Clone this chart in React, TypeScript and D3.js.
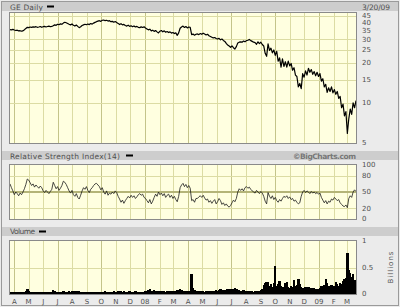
import React from "react";
import * as d3 from "d3";

const startDate = new Date(2007, 2, 23);
const endDate = new Date(2009, 2, 20);

const prices = [
  35.6, 35.4, 35.7, 35.3, 35.0, 35.2, 34.8, 34.9, 34.6, 34.8,
  35.5, 36.3, 37.0, 36.8, 37.2, 37.0, 37.3, 37.1, 37.4, 37.0,
  37.2, 37.5, 37.0, 37.4, 37.6, 37.2, 37.5, 37.8, 37.4, 37.6,
  38.0, 38.6, 38.3, 39.0, 38.7, 39.3, 39.0, 39.8, 40.4, 40.0,
  39.5, 39.0, 38.6, 39.2, 38.3, 37.8, 38.5, 37.6, 36.8, 37.4,
  38.2, 38.6, 39.0, 38.7, 39.2, 38.8, 39.5, 39.1, 39.8, 40.3,
  40.8, 41.2, 41.5, 41.0, 41.8, 42.0, 41.5, 41.8, 41.2, 41.5,
  40.8, 41.0, 40.4, 40.9, 40.2, 39.6, 38.8, 39.4, 38.6, 38.9,
  38.2, 37.8, 38.4, 37.6, 38.0, 37.4, 37.9, 37.2, 37.6, 37.0,
  36.8, 37.3, 36.9, 37.3, 36.6, 36.0, 35.4, 35.8, 34.8, 35.2,
  34.5, 35.0, 34.2, 33.6, 34.6, 35.0, 34.2, 34.8, 34.0, 34.4,
  33.8, 34.2, 33.5, 33.8, 33.2, 33.6, 32.2, 33.6, 36.4, 37.2,
  37.8, 36.9, 37.5, 36.6, 37.2, 37.0, 32.6, 32.9, 32.3, 32.8,
  33.0, 32.6, 33.2, 32.8, 33.4, 32.9, 32.4, 32.8, 32.0, 31.6,
  31.2, 30.8, 31.0, 30.5, 30.2, 30.6, 29.8, 30.2, 29.5, 29.0,
  28.0, 27.2, 26.8, 26.2, 26.8, 26.0, 25.4, 26.5, 28.2, 28.6,
  28.8, 28.6, 29.2, 28.8, 29.4, 29.6, 30.0, 29.4, 29.0, 28.6,
  28.4, 27.6, 28.8, 27.9, 28.6, 27.5, 26.8, 23.6, 22.4, 27.8,
  24.8, 25.8, 23.8, 25.0, 22.8, 24.4, 20.6, 21.8, 18.6, 21.4,
  18.8, 20.4, 18.6, 20.6, 19.0, 19.8, 17.6, 18.4, 16.2, 15.8,
  13.2, 14.0, 12.8, 16.6, 15.6, 17.4, 16.2, 18.2, 17.0, 17.8,
  16.4, 17.2, 16.0, 17.0, 15.8, 16.6, 14.6, 15.2, 13.2, 13.8,
  12.0, 13.0, 12.2, 13.2, 11.9, 12.6, 11.6, 12.2, 10.8, 11.2,
  9.2, 9.8, 8.0, 8.6, 5.9, 7.6, 9.0, 8.2, 10.0, 9.2, 10.4,
];

const rsi = [
  65, 58, 52, 45, 50, 47, 43, 48, 45, 50,
  56, 64, 74, 72, 67, 62, 65, 59, 63, 60,
  57, 61, 58, 52, 49, 53, 50, 47, 51, 55,
  68, 62, 56, 60, 53, 57, 62, 70, 68, 64,
  58, 52, 48, 53, 45, 42, 47, 40, 37, 44,
  52, 58, 55, 60, 53, 49, 55, 58, 62, 65,
  66, 63, 60, 54, 58, 50, 46, 52, 44, 48,
  46, 50, 47, 52, 49, 42, 37, 31, 35, 29,
  34, 38, 42, 39, 44, 40, 43, 38, 41, 45,
  47, 44, 46, 40, 38, 34, 30, 36, 28, 33,
  40, 46, 42, 50, 45, 48, 43, 47, 40, 44,
  46, 40, 44, 38, 42, 36, 32, 42, 58, 63,
  66, 60, 64, 58, 62, 57, 34, 36, 31, 38,
  38, 41, 43, 40, 44, 39, 35, 37, 31, 34,
  29, 33, 36, 28, 32, 38, 34, 27, 30, 25,
  28, 24, 22, 25, 30, 35, 32, 38, 50, 56,
  53, 56, 52, 58, 60, 57, 59, 55, 52, 50,
  48, 53, 50, 47, 51, 48, 42, 33, 28, 49,
  42, 38, 43, 36, 40, 34, 31, 36, 33, 38,
  42, 40, 43, 38, 41, 36, 38, 33, 35, 31,
  28, 30, 42, 50, 53, 49, 52, 50, 47, 51,
  48, 50, 47, 49, 46, 48, 40, 35, 30, 34,
  28, 33, 31, 37, 35, 40, 37, 34, 36, 30,
  27, 24, 23, 26, 21, 38, 43, 40, 50, 54, 51,
];

const volume = [
  0.04, 0.035, 0.03, 0.04, 0.035, 0.03, 0.04, 0.035, 0.03, 0.035,
  0.04, 0.06, 0.09, 0.05, 0.04, 0.035, 0.03, 0.04, 0.035, 0.03,
  0.035, 0.03, 0.04, 0.035, 0.03, 0.04, 0.035, 0.03, 0.04, 0.045,
  0.075, 0.05, 0.04, 0.035, 0.04, 0.045, 0.04, 0.05, 0.045, 0.04,
  0.045, 0.05, 0.045, 0.05, 0.055, 0.06, 0.05, 0.06, 0.055, 0.045,
  0.04, 0.045, 0.04, 0.035, 0.04, 0.035, 0.04, 0.045, 0.04, 0.035,
  0.04, 0.035, 0.04, 0.045, 0.04, 0.035, 0.05, 0.045, 0.04, 0.045,
  0.04, 0.045, 0.05, 0.04, 0.045, 0.05, 0.055, 0.05, 0.045, 0.05,
  0.045, 0.04, 0.045, 0.05, 0.04, 0.045, 0.04, 0.05, 0.045, 0.04,
  0.035, 0.03, 0.04, 0.045, 0.05, 0.06, 0.07, 0.09, 0.065, 0.06,
  0.07, 0.06, 0.055, 0.05, 0.045, 0.05, 0.055, 0.05, 0.045, 0.05,
  0.05, 0.045, 0.05, 0.055, 0.06, 0.065, 0.08, 0.07, 0.1, 0.08,
  0.06, 0.05, 0.055, 0.05, 0.045, 0.05, 0.38, 0.12, 0.08, 0.06,
  0.05, 0.055, 0.05, 0.045, 0.05, 0.045, 0.05, 0.055, 0.05, 0.06,
  0.055, 0.06, 0.065, 0.07, 0.06, 0.075, 0.1, 0.08, 0.07, 0.075,
  0.08, 0.09, 0.1, 0.085, 0.075, 0.09, 0.11, 0.09, 0.08, 0.07,
  0.065, 0.06, 0.07, 0.065, 0.06, 0.055, 0.05, 0.055, 0.05, 0.045,
  0.05, 0.055, 0.05, 0.06, 0.07, 0.1, 0.17, 0.2, 0.23, 0.22,
  0.15, 0.18, 0.14, 0.2, 0.53, 0.16, 0.19, 0.24, 0.15, 0.14,
  0.13, 0.2, 0.23, 0.14, 0.12, 0.15, 0.13, 0.26, 0.15, 0.17,
  0.28, 0.18, 0.14, 0.12, 0.1, 0.13, 0.11, 0.14, 0.1, 0.12,
  0.1, 0.11, 0.09, 0.08, 0.1, 0.12, 0.15, 0.14, 0.17, 0.28,
  0.2, 0.15, 0.14, 0.17, 0.16, 0.15, 0.22, 0.18, 0.16, 0.21,
  0.18, 0.24, 0.28, 0.3, 0.77, 0.46, 0.4, 0.32, 0.38, 0.26, 0.22,
];

const monthLabels = [
  "A", "M", "J", "J", "A", "S", "O", "N", "D", "08", "F", "M",
  "A", "M", "J", "J", "A", "S", "O", "N", "D", "09", "F", "M",
];
const priceTicks = [45, 40, 35, 30, 25, 20, 15, 10, 5];
const priceGrid = [45, 30, 25, 20, 15, 10];
const rsiTicks = [100, 80, 50, 20, 0];
const rsiGrid = [80, 20];
const volTicks = [1, 0.5, 0];
const volGrid = [0.5];

const L = 10;
const R = 356;
const P = { top: 13, bottom: 143 };
const RS = { top: 165, bottom: 219 };
const V = { top: 241, bottom: 294 };

const BG = "#ffffe0";
const GRID = "#dcdca4";
const GRID_Q = "#c4c48a";
const FONT = "DejaVu Sans, Verdana, sans-serif";
const TXT = "#505050";

export default function App() {
  const n = prices.length;
  const span = endDate.getTime() - startDate.getTime();
  const dates = prices.map((_, i) => new Date(startDate.getTime() + (i * span) / (n - 1)));
  const x = d3.scaleTime().domain([startDate, endDate]).range([L, R]);
  const yP = d3.scaleLog().domain([5, 47.4]).range([P.bottom, P.top]);
  const yR = d3.scaleLinear().domain([0, 100]).range([RS.bottom, RS.top]);
  const yV = d3.scaleLinear().domain([0, 1]).range([V.bottom, V.top]);
  const months = d3.timeMonth.range(new Date(2007, 3, 1), new Date(2009, 2, 2));

  const priceLine = d3.line<number>().x((_, i) => x(dates[i])).y((d) => yP(d))(prices) || "";
  const rsiLine = d3.line<number>().x((_, i) => x(dates[i])).y((d) => yR(d))(rsi) || "";
  const barW = (R - L) / (n - 1);

  const vGrid = (top: number, bottom: number) =>
    months.map((m, k) => {
      const q = m.getMonth() % 3 === 0;
      return (
        <line key={k} x1={Math.round(x(m)) + 0.5} x2={Math.round(x(m)) + 0.5} y1={top} y2={bottom}
          stroke={q ? GRID_Q : GRID} strokeWidth={1} />
      );
    });

  const band = (y: number, h: number) => (
    <rect x={2} y={y} width={396} height={h} fill="#cdcdcd" />
  );

  const frame = (top: number, bottom: number) => (
    <rect x={L - 0.5} y={top - 0.5} width={R - L + 1} height={bottom - top + 1} fill="none" stroke="#8a8a8a" strokeWidth={1} />
  );

  return (
    <svg width={400} height={307} style={{ position: "absolute", left: 0, top: 0 }} fontFamily={FONT}>
      <rect x={0} y={0} width={400} height={307} fill="#ebebeb" />
      <rect x={1.5} y={1.5} width={397} height={304} fill="none" stroke="#9a9a9a" />

      {/* Title bands */}
      {band(2, 9)}
      <text x={10} y={9.5} fontSize={7.5} fill={TXT} textLength={33} lengthAdjust="spacing">GE Daily</text>
      <rect x={47} y={5.5} width={7} height={2} fill="#000" />
      <text x={362} y={9.5} fontSize={7.5} fill={TXT} textLength={28} lengthAdjust="spacing">3/20/09</text>

      {/* Price panel */}
      <rect x={L} y={P.top} width={R - L} height={P.bottom - P.top} fill={BG} />
      {vGrid(P.top, P.bottom)}
      {priceGrid.map((v) => (
        <line key={v} x1={L} x2={R} y1={Math.round(yP(v)) + 0.5} y2={Math.round(yP(v)) + 0.5} stroke={GRID} />
      ))}
      <path d={priceLine} fill="none" stroke="#000" strokeWidth={1.2} strokeLinejoin="round" />
      {frame(P.top, P.bottom)}
      {priceTicks.map((v) => (
        <text key={v} x={362} y={yP(v)} dy="0.35em" fontSize={7} fill={TXT}>{v}</text>
      ))}

      {/* RSI band */}
      {band(151, 9)}
      <text x={10} y={158.5} fontSize={7.5} fill={TXT} textLength={110} lengthAdjust="spacing">Relative Strength Index(14)</text>
      <rect x={126} y={154.5} width={7} height={2} fill="#000" />
      <text x={356} y={158.5} fontSize={7.5} fontWeight="bold" fill="#777" textAnchor="end" textLength={63} lengthAdjust="spacing">©BigCharts.com</text>

      {/* RSI panel */}
      <rect x={L} y={RS.top} width={R - L} height={RS.bottom - RS.top} fill={BG} />
      {vGrid(RS.top, RS.bottom)}
      {rsiGrid.map((v) => (
        <line key={v} x1={L} x2={R} y1={Math.round(yR(v)) + 0.5} y2={Math.round(yR(v)) + 0.5} stroke={GRID} />
      ))}
      <line x1={L} x2={R} y1={yR(50)} y2={yR(50)} stroke="#b4b478" strokeWidth={2} />
      <path d={rsiLine} fill="none" stroke="#1a1a1a" strokeWidth={0.8} />
      {frame(RS.top, RS.bottom)}
      {rsiTicks.map((v) => (
        <text key={v} x={362} y={yR(v)} dy="0.35em" fontSize={7} fill={TXT}>{v}</text>
      ))}

      {/* Volume band */}
      {band(227, 9)}
      <text x={10} y={234} fontSize={7.5} fill={TXT} textLength={25} lengthAdjust="spacing">Volume</text>
      <rect x={39} y={230.5} width={7} height={2} fill="#000" />

      {/* Volume panel */}
      <rect x={L} y={V.top} width={R - L} height={V.bottom - V.top} fill={BG} />
      {vGrid(V.top, V.bottom)}
      {volGrid.map((v) => (
        <line key={v} x1={L} x2={R} y1={Math.round(yV(v)) + 0.5} y2={Math.round(yV(v)) + 0.5} stroke={GRID} />
      ))}
      <g shapeRendering="crispEdges">
        {volume.map((v, i) => {
          const cx = x(dates[i]);
          const x0 = Math.max(L, Math.floor(cx - barW / 2));
          const x1 = Math.min(R, Math.ceil(cx + barW / 2));
          return <rect key={i} x={x0} y={yV(v)} width={x1 - x0} height={V.bottom - yV(v)} fill="#000" />;
        })}
      </g>
      {frame(V.top, V.bottom)}
      {volTicks.map((v) => (
        <text key={v} x={362} y={yV(v)} dy="0.35em" fontSize={7} fill={TXT}>{v}</text>
      ))}
      <text transform="translate(393,267) rotate(-90)" textAnchor="middle" fontSize={7} fill={TXT} letterSpacing={1}>Billions</text>

      {/* Month labels */}
      {months.map((m, k) => (
        <text key={k} x={x(m)} y={303.5} textAnchor="middle" fontSize={7} fill={TXT}>{monthLabels[k]}</text>
      ))}
    </svg>
  );
}
